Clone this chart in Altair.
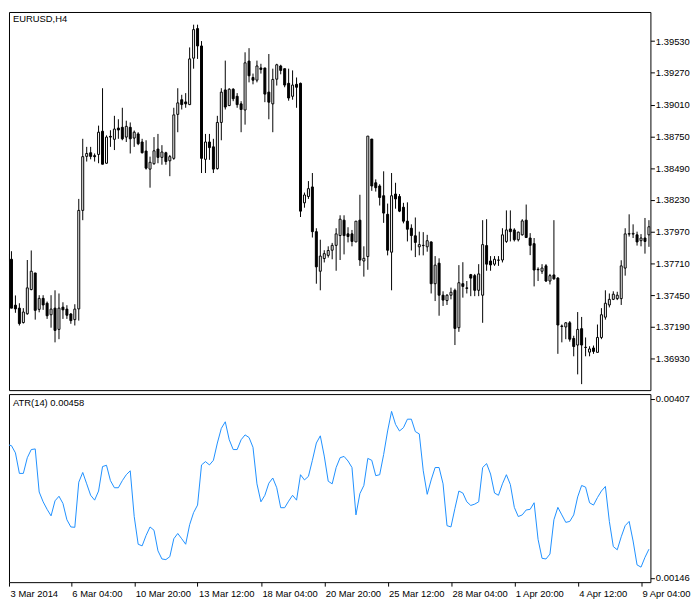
import altair as alt
import pandas as pd
import numpy as np

opens = [1.37784, 1.37744, 1.37368, 1.37344, 1.37226, 1.37298, 1.37496, 1.37632, 1.37334, 1.37424,
         1.37384, 1.37290, 1.37344, 1.37170, 1.37352, 1.37336, 1.37296, 1.37250, 1.37338, 1.38144,
         1.38586, 1.38616, 1.38592, 1.38602, 1.38792, 1.38530, 1.38750, 1.38726, 1.38818, 1.38824,
         1.38744, 1.38824, 1.38736, 1.38770, 1.38704, 1.38630, 1.38482, 1.38526, 1.38646, 1.38578,
         1.38616, 1.38550, 1.38570, 1.38930, 1.39050, 1.39032, 1.39010, 1.39390, 1.39632, 1.39490,
         1.38562, 1.38704, 1.38664, 1.38486, 1.38864, 1.39130, 1.39002, 1.39136, 1.39078, 1.39016,
         1.38966, 1.39366, 1.39232, 1.39210, 1.39310, 1.39310, 1.39112, 1.39016, 1.39218, 1.39326,
         1.39304, 1.39184, 1.39078, 1.39176, 1.39184, 1.38206, 1.38258, 1.38336, 1.37970, 1.37646,
         1.37750, 1.37776, 1.37818, 1.37858, 1.37938, 1.38064, 1.37952, 1.37952, 1.37886, 1.38064,
         1.37730, 1.37766, 1.38728, 1.38370, 1.38344, 1.38264, 1.38112, 1.37802, 1.38278, 1.38258,
         1.38170, 1.38056, 1.37998, 1.37936, 1.37846, 1.37856, 1.37846, 1.37886, 1.37544, 1.37712,
         1.37450, 1.37406, 1.37450, 1.37490, 1.37184, 1.37544, 1.37510, 1.37618, 1.37610, 1.37490,
         1.37450, 1.37856, 1.37730, 1.37704, 1.37736, 1.37738, 1.37890, 1.37992, 1.37984, 1.37904,
         1.37944, 1.38064, 1.37918, 1.37872, 1.37662, 1.37646, 1.37690, 1.37566, 1.37616, 1.37590,
         1.37198, 1.37190, 1.37224, 1.37096, 1.37042, 1.37176, 1.37024, 1.36984, 1.37018, 1.36982,
         1.37104, 1.37270, 1.37370, 1.37416, 1.37422, 1.37422, 1.37672, 1.37950, 1.37950, 1.37944,
         1.37896, 1.37918, 1.37944]

highs = [1.37800, 1.37810, 1.37448, 1.37384, 1.37344, 1.37738, 1.37816, 1.37632, 1.37450, 1.37450,
         1.37398, 1.37450, 1.37490, 1.37464, 1.37392, 1.37368, 1.37304, 1.37376, 1.38238, 1.38730,
         1.38664, 1.38664, 1.38610, 1.38838, 1.39144, 1.38758, 1.38800, 1.38918, 1.38890, 1.38984,
         1.38878, 1.38864, 1.38798, 1.38784, 1.38730, 1.38718, 1.38584, 1.38744, 1.38770, 1.38678,
         1.38624, 1.38598, 1.38984, 1.39144, 1.39090, 1.39104, 1.39478, 1.39664, 1.39664, 1.39530,
         1.38770, 1.38770, 1.38730, 1.38918, 1.39144, 1.39370, 1.39144, 1.39144, 1.39104, 1.39038,
         1.39438, 1.39472, 1.39264, 1.39370, 1.39344, 1.39310, 1.39424, 1.39304, 1.39344, 1.39336,
         1.39304, 1.39304, 1.39290, 1.39232, 1.39190, 1.38290, 1.38384, 1.38450, 1.37998, 1.37904,
         1.37818, 1.37850, 1.37878, 1.37998, 1.38104, 1.38104, 1.38006, 1.37984, 1.38056, 1.38272,
         1.37850, 1.38752, 1.38728, 1.38398, 1.38358, 1.38464, 1.38200, 1.38450, 1.38370, 1.38278,
         1.38206, 1.38210, 1.38030, 1.38086, 1.37970, 1.37966, 1.37944, 1.37890, 1.37770, 1.37752,
         1.37482, 1.37458, 1.37512, 1.37504, 1.37696, 1.37720, 1.37566, 1.37624, 1.37624, 1.37704,
         1.38064, 1.38072, 1.37770, 1.37770, 1.37770, 1.37998, 1.38144, 1.38144, 1.37998, 1.37970,
         1.38072, 1.38192, 1.37958, 1.37918, 1.37678, 1.37704, 1.37704, 1.37624, 1.38064, 1.37598,
         1.37210, 1.37230, 1.37238, 1.37118, 1.37312, 1.37272, 1.37104, 1.37032, 1.37038, 1.37210,
         1.37344, 1.37490, 1.37464, 1.37482, 1.37478, 1.37736, 1.37998, 1.38112, 1.38030, 1.37970,
         1.37950, 1.38082, 1.38064]

lows = [1.37712, 1.37344, 1.37306, 1.37202, 1.37218, 1.37290, 1.37490, 1.37250, 1.37310, 1.37330,
        1.37256, 1.37184, 1.37064, 1.37090, 1.37256, 1.37256, 1.37216, 1.37202, 1.37242, 1.38064,
        1.38544, 1.38562, 1.38544, 1.38530, 1.38522, 1.38526, 1.38664, 1.38638, 1.38730, 1.38718,
        1.38704, 1.38610, 1.38664, 1.38678, 1.38610, 1.38478, 1.38330, 1.38518, 1.38530, 1.38518,
        1.38518, 1.38424, 1.38558, 1.38784, 1.38970, 1.38984, 1.39006, 1.39304, 1.39384, 1.38450,
        1.38450, 1.38558, 1.38450, 1.38478, 1.38718, 1.38970, 1.38998, 1.39038, 1.38984, 1.38784,
        1.38846, 1.39192, 1.39176, 1.39192, 1.39264, 1.39030, 1.38890, 1.38784, 1.39166, 1.39258,
        1.39152, 1.39042, 1.39050, 1.38984, 1.38090, 1.38166, 1.38238, 1.37922, 1.37544, 1.37490,
        1.37718, 1.37758, 1.37744, 1.37650, 1.37738, 1.37784, 1.37882, 1.37850, 1.37886, 1.37690,
        1.37602, 1.37658, 1.38304, 1.38298, 1.38184, 1.38042, 1.37776, 1.37490, 1.38158, 1.38130,
        1.38038, 1.37890, 1.37816, 1.37762, 1.37776, 1.37776, 1.37806, 1.37464, 1.37402, 1.37282,
        1.37362, 1.37370, 1.37416, 1.37042, 1.37150, 1.37430, 1.37464, 1.37442, 1.37442, 1.37442,
        1.37224, 1.37650, 1.37650, 1.37690, 1.37690, 1.37718, 1.37878, 1.37890, 1.37890, 1.37890,
        1.37938, 1.37918, 1.37778, 1.37522, 1.37566, 1.37624, 1.37558, 1.37538, 1.37576, 1.36970,
        1.37064, 1.37090, 1.37070, 1.36950, 1.36802, 1.36722, 1.36950, 1.36950, 1.36970, 1.36982,
        1.37090, 1.37250, 1.37350, 1.37410, 1.37410, 1.37370, 1.37610, 1.37930, 1.37918, 1.37856,
        1.37850, 1.37790, 1.37846]

closes = [1.37728, 1.37344, 1.37338, 1.37218, 1.37312, 1.37510, 1.37646, 1.37326, 1.37424, 1.37370,
          1.37282, 1.37336, 1.37162, 1.37344, 1.37330, 1.37286, 1.37242, 1.37336, 1.38144, 1.38584,
          1.38610, 1.38586, 1.38584, 1.38784, 1.38522, 1.38744, 1.38744, 1.38810, 1.38802, 1.38730,
          1.38832, 1.38730, 1.38784, 1.38690, 1.38616, 1.38490, 1.38538, 1.38632, 1.38578, 1.38622,
          1.38544, 1.38584, 1.38926, 1.39024, 1.39010, 1.39016, 1.39384, 1.39624, 1.39490, 1.38570,
          1.38704, 1.38658, 1.38482, 1.38864, 1.39112, 1.38990, 1.39136, 1.39058, 1.39010, 1.38970,
          1.39352, 1.39246, 1.39210, 1.39326, 1.39298, 1.39096, 1.39030, 1.39216, 1.39336, 1.39290,
          1.39170, 1.39064, 1.39170, 1.39152, 1.38138, 1.38270, 1.38322, 1.37970, 1.37682, 1.37770,
          1.37790, 1.37816, 1.37858, 1.37952, 1.38072, 1.37938, 1.37930, 1.37890, 1.38056, 1.37738,
          1.37752, 1.38752, 1.38344, 1.38330, 1.38250, 1.38122, 1.37818, 1.38264, 1.38238, 1.38138,
          1.38056, 1.37990, 1.37938, 1.37882, 1.37864, 1.37858, 1.37896, 1.37544, 1.37696, 1.37450,
          1.37410, 1.37450, 1.37474, 1.37178, 1.37552, 1.37522, 1.37506, 1.37590, 1.37490, 1.37624,
          1.37864, 1.37704, 1.37698, 1.37744, 1.37738, 1.37944, 1.37984, 1.37970, 1.37904, 1.37966,
          1.38058, 1.37922, 1.37858, 1.37656, 1.37658, 1.37672, 1.37566, 1.37610, 1.37584, 1.37206,
          1.37194, 1.37224, 1.37090, 1.37030, 1.37170, 1.37042, 1.37022, 1.37010, 1.36990, 1.37104,
          1.37290, 1.37384, 1.37416, 1.37458, 1.37450, 1.37690, 1.37952, 1.37954, 1.37956, 1.37886,
          1.37918, 1.37890, 1.38010]

atr_values = [0.003403, 0.003389, 0.003284, 0.002984, 0.002984, 0.003213, 0.003332, 0.003341, 0.002713, 0.002570,
              0.002460, 0.002365, 0.002584, 0.002651, 0.002546, 0.002308, 0.002203, 0.002198, 0.002856, 0.002998,
              0.002832, 0.002665, 0.002594, 0.002727, 0.003084, 0.003103, 0.002879, 0.002775, 0.002775, 0.002879,
              0.002965, 0.003022, 0.002355, 0.001951, 0.001927, 0.002079, 0.002203, 0.002155, 0.001855, 0.001736,
              0.001727, 0.001770, 0.002031, 0.002108, 0.002031, 0.001951, 0.002236, 0.002413, 0.002522, 0.003108,
              0.003156, 0.003108, 0.003175, 0.003427, 0.003641, 0.003737, 0.003475, 0.003332, 0.003332, 0.003475,
              0.003546, 0.003508, 0.003365, 0.002832, 0.002570, 0.002665, 0.002841, 0.002917, 0.002775, 0.002484,
              0.002484, 0.002579, 0.002665, 0.002594, 0.002965, 0.002889, 0.002941, 0.003175, 0.003427, 0.003532,
              0.003237, 0.002870, 0.002832, 0.003070, 0.003213, 0.003232, 0.003165, 0.003070, 0.002379, 0.002689,
              0.002808, 0.003203, 0.003175, 0.002951, 0.002965, 0.003260, 0.003603, 0.003889, 0.003699, 0.003603,
              0.003651, 0.003775, 0.003775, 0.003594, 0.003560, 0.003022, 0.002679, 0.002889, 0.003070, 0.003070,
              0.002832, 0.002222, 0.002203, 0.002474, 0.002727, 0.002698, 0.002570, 0.002517, 0.002536, 0.002570,
              0.003070, 0.003127, 0.002975, 0.002698, 0.002665, 0.002832, 0.002965, 0.002822, 0.002489, 0.002355,
              0.002379, 0.002451, 0.002460, 0.002556, 0.002022, 0.001746, 0.001736, 0.001808, 0.002308, 0.002489,
              0.002379, 0.002270, 0.002284, 0.002379, 0.002641, 0.002808, 0.002784, 0.002556, 0.002522, 0.002632,
              0.002727, 0.002794, 0.002284, 0.001917, 0.001870, 0.002060, 0.002222, 0.002284, 0.001998, 0.001650,
              0.001617, 0.001760, 0.001879]

# first tick sits on the first visible bar (left edge of the window)
x_tick_bars = [0.4, 16, 32, 48, 64, 80, 96, 112, 128, 144, 160]
x_tick_labels = ["3 Mar 2014", "6 Mar 04:00", "10 Mar 20:00", "13 Mar 12:00", "18 Mar 04:00",
                 "20 Mar 20:00", "25 Mar 12:00", "28 Mar 04:00", "1 Apr 20:00", "4 Apr 12:00",
                 "9 Apr 04:00"]
price_ticks = [1.39530, 1.39270, 1.39010, 1.38750, 1.38490, 1.38230, 1.37970,
               1.37710, 1.37450, 1.37190, 1.36930]
atr_ticks = [0.00407, 0.00146]
symbol_label = "EURUSD,H4"
atr_label = "ATR(14) 0.00458"

n = len(opens)
df = pd.DataFrame({
    "bar": list(range(n)),
    "open": opens, "high": highs, "low": lows, "close": closes, "atr": atr_values,
})
df["body_top"] = df[["open", "close"]].max(axis=1)
df["body_bot"] = df[["open", "close"]].min(axis=1)
df["fill"] = np.where(df["close"] >= df["open"], "white", "black")

FONT = "Liberation Sans"
FS = 9.5
W = 648

xscale = alt.Scale(domain=[0.375, 162.375], nice=False, zero=False, padding=0)
pscale = alt.Scale(domain=[1.36673, 1.39768], nice=False, zero=False)
ascale = alt.Scale(domain=[0.001398, 0.004141], nice=False, zero=False)

label_expr = "[" + ",".join("'" + s + "'" for s in x_tick_labels) + "][round(datum.value/16)]"

price_axis = alt.Axis(orient="right", values=price_ticks, tickCount=30, format=".5f", title=None,
                      labelFont=FONT, labelFontSize=FS, labelColor="black",
                      tickColor="black", tickSize=4, labelPadding=1, domain=False,
                      grid=False, labelOverlap=False)

base = alt.Chart(df)

wicks = base.mark_rule(color="black", strokeWidth=1, clip=True).encode(
    x=alt.X("bar:Q", scale=xscale, axis=None),
    y=alt.Y("low:Q", scale=pscale, axis=price_axis),
    y2="high:Q",
)
bodies = base.mark_bar(size=2, stroke="black", strokeWidth=1, clip=True).encode(
    x=alt.X("bar:Q", scale=xscale, axis=None),
    y=alt.Y("body_bot:Q", scale=pscale, axis=price_axis),
    y2="body_top:Q",
    fill=alt.Fill("fill:N", scale=None),
)
sym_text = alt.Chart(pd.DataFrame({"t": [symbol_label]})).mark_text(
    align="left", baseline="middle", font=FONT, fontSize=FS, color="black"
).encode(x=alt.value(4), y=alt.value(7), text="t:N")

main = alt.layer(wicks, bodies, sym_text).properties(width=W, height=382)

atr_line = base.mark_line(color="#1E90FF", strokeWidth=1, clip=True).encode(
    x=alt.X("bar:Q", scale=xscale,
            axis=alt.Axis(values=x_tick_bars, tickCount=30, labelExpr=label_expr, title=None,
                          labelFont=FONT, labelFontSize=FS, labelColor="black",
                          labelAlign="left", labelOffset=1, labelPadding=2,
                          labelFlush=False, labelOverlap=False,
                          tickColor="black", tickSize=4, domain=False, grid=False)),
    y=alt.Y("atr:Q", scale=ascale,
            axis=alt.Axis(orient="right", values=atr_ticks, format=".5f", title=None,
                          labelFont=FONT, labelFontSize=FS, labelColor="black",
                          tickColor="black", tickSize=4, labelPadding=1, domain=False,
                          grid=False, labelOverlap=False)),
)
atr_text = alt.Chart(pd.DataFrame({"t": [atr_label]})).mark_text(
    align="left", baseline="middle", font=FONT, fontSize=FS, color="black"
).encode(x=alt.value(4), y=alt.value(9), text="t:N")

atr_panel = alt.layer(atr_line, atr_text).properties(width=W, height=190)

chart = alt.vconcat(main, atr_panel, spacing=2).properties(
    padding=0, background="white"
).configure_view(stroke="black", strokeWidth=1, fill="white")

chart.save("out.html", embed_options={"renderer": "svg", "actions": False})
